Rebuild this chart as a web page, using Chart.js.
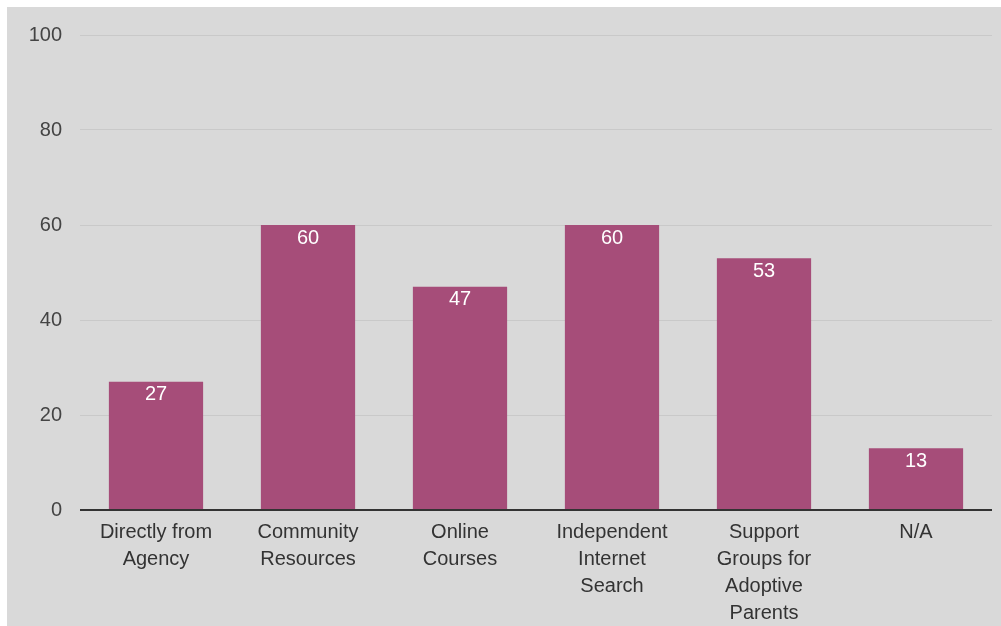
<!DOCTYPE html>
<html>
<head>
<meta charset="utf-8">
<script src="https://cdn.jsdelivr.net/npm/chart.js@4.4.1/dist/chart.umd.min.js"></script>
<style>
  html, body { margin: 0; padding: 0; background: #ffffff; }
  #panel {
    position: absolute; left: 7px; top: 7px;
    width: 994px; height: 619px;
    background: #d9d9d9;
  }
  #chart { display: block; }
</style>
</head>
<body>
<div id="panel"><canvas id="chart" width="994" height="619"></canvas></div>
<script>
// Where adoptive parents found information (percent of respondents)
const categories = [
  ['Directly from', 'Agency'],
  ['Community', 'Resources'],
  ['Online', 'Courses'],
  ['Independent', 'Internet', 'Search'],
  ['Support', 'Groups for', 'Adoptive', 'Parents'],
  ['N/A']
];
const percentages = [27, 60, 47, 60, 53, 13];
const yTicks = [0, 20, 40, 60, 80, 100];

const FONT = 'Liberation Sans, Arial, sans-serif';

// Writes each bar's value in white just inside its top edge
const barValueLabels = {
  id: 'barValueLabels',
  afterDatasetsDraw(chart) {
    const ctx = chart.ctx;
    const meta = chart.getDatasetMeta(0);
    ctx.save();
    ctx.font = '20px ' + FONT;
    ctx.fillStyle = '#ffffff';
    ctx.textAlign = 'center';
    ctx.textBaseline = 'middle';
    meta.data.forEach((bar, i) => {
      ctx.fillText(String(percentages[i]), bar.x, bar.y + 13);
    });
    ctx.restore();
  }
};

new Chart(document.getElementById('chart'), {
  type: 'bar',
  data: {
    labels: categories,
    datasets: [{
      data: percentages,
      backgroundColor: '#a64d79',
      borderWidth: 0,
      barPercentage: 0.62,
      categoryPercentage: 1.0
    }]
  },
  options: {
    responsive: false,
    animation: false,
    devicePixelRatio: 1,
    layout: { padding: { top: 28, left: 0, right: 9, bottom: 0 } },
    plugins: {
      legend: { display: false },
      tooltip: { enabled: false }
    },
    scales: {
      x: {
        grid: { display: false },
        border: { display: false },
        ticks: {
          color: '#333333',
          font: { family: FONT, size: 20, lineHeight: 1.35 },
          maxRotation: 0,
          autoSkip: false,
          padding: 1
        },
        afterFit(scale) { scale.height = 116; }
      },
      y: {
        min: 0,
        max: 100,
        afterBuildTicks(scale) { scale.ticks = yTicks.map(v => ({ value: v })); },
        border: { display: false },
        grid: {
          color: c => (c.tick && c.tick.value === 0 ? '#333333' : '#c9c9c9'),
          lineWidth: c => (c.tick && c.tick.value === 0 ? 2 : 1),
          drawTicks: false
        },
        ticks: {
          color: '#444444',
          font: { family: FONT, size: 20 },
          padding: 18
        },
        afterFit(scale) {
          scale.width = 73;
          scale.paddingTop = 0;
        }
      }
    }
  },
  plugins: [barValueLabels]
});
</script>
</body>
</html>
